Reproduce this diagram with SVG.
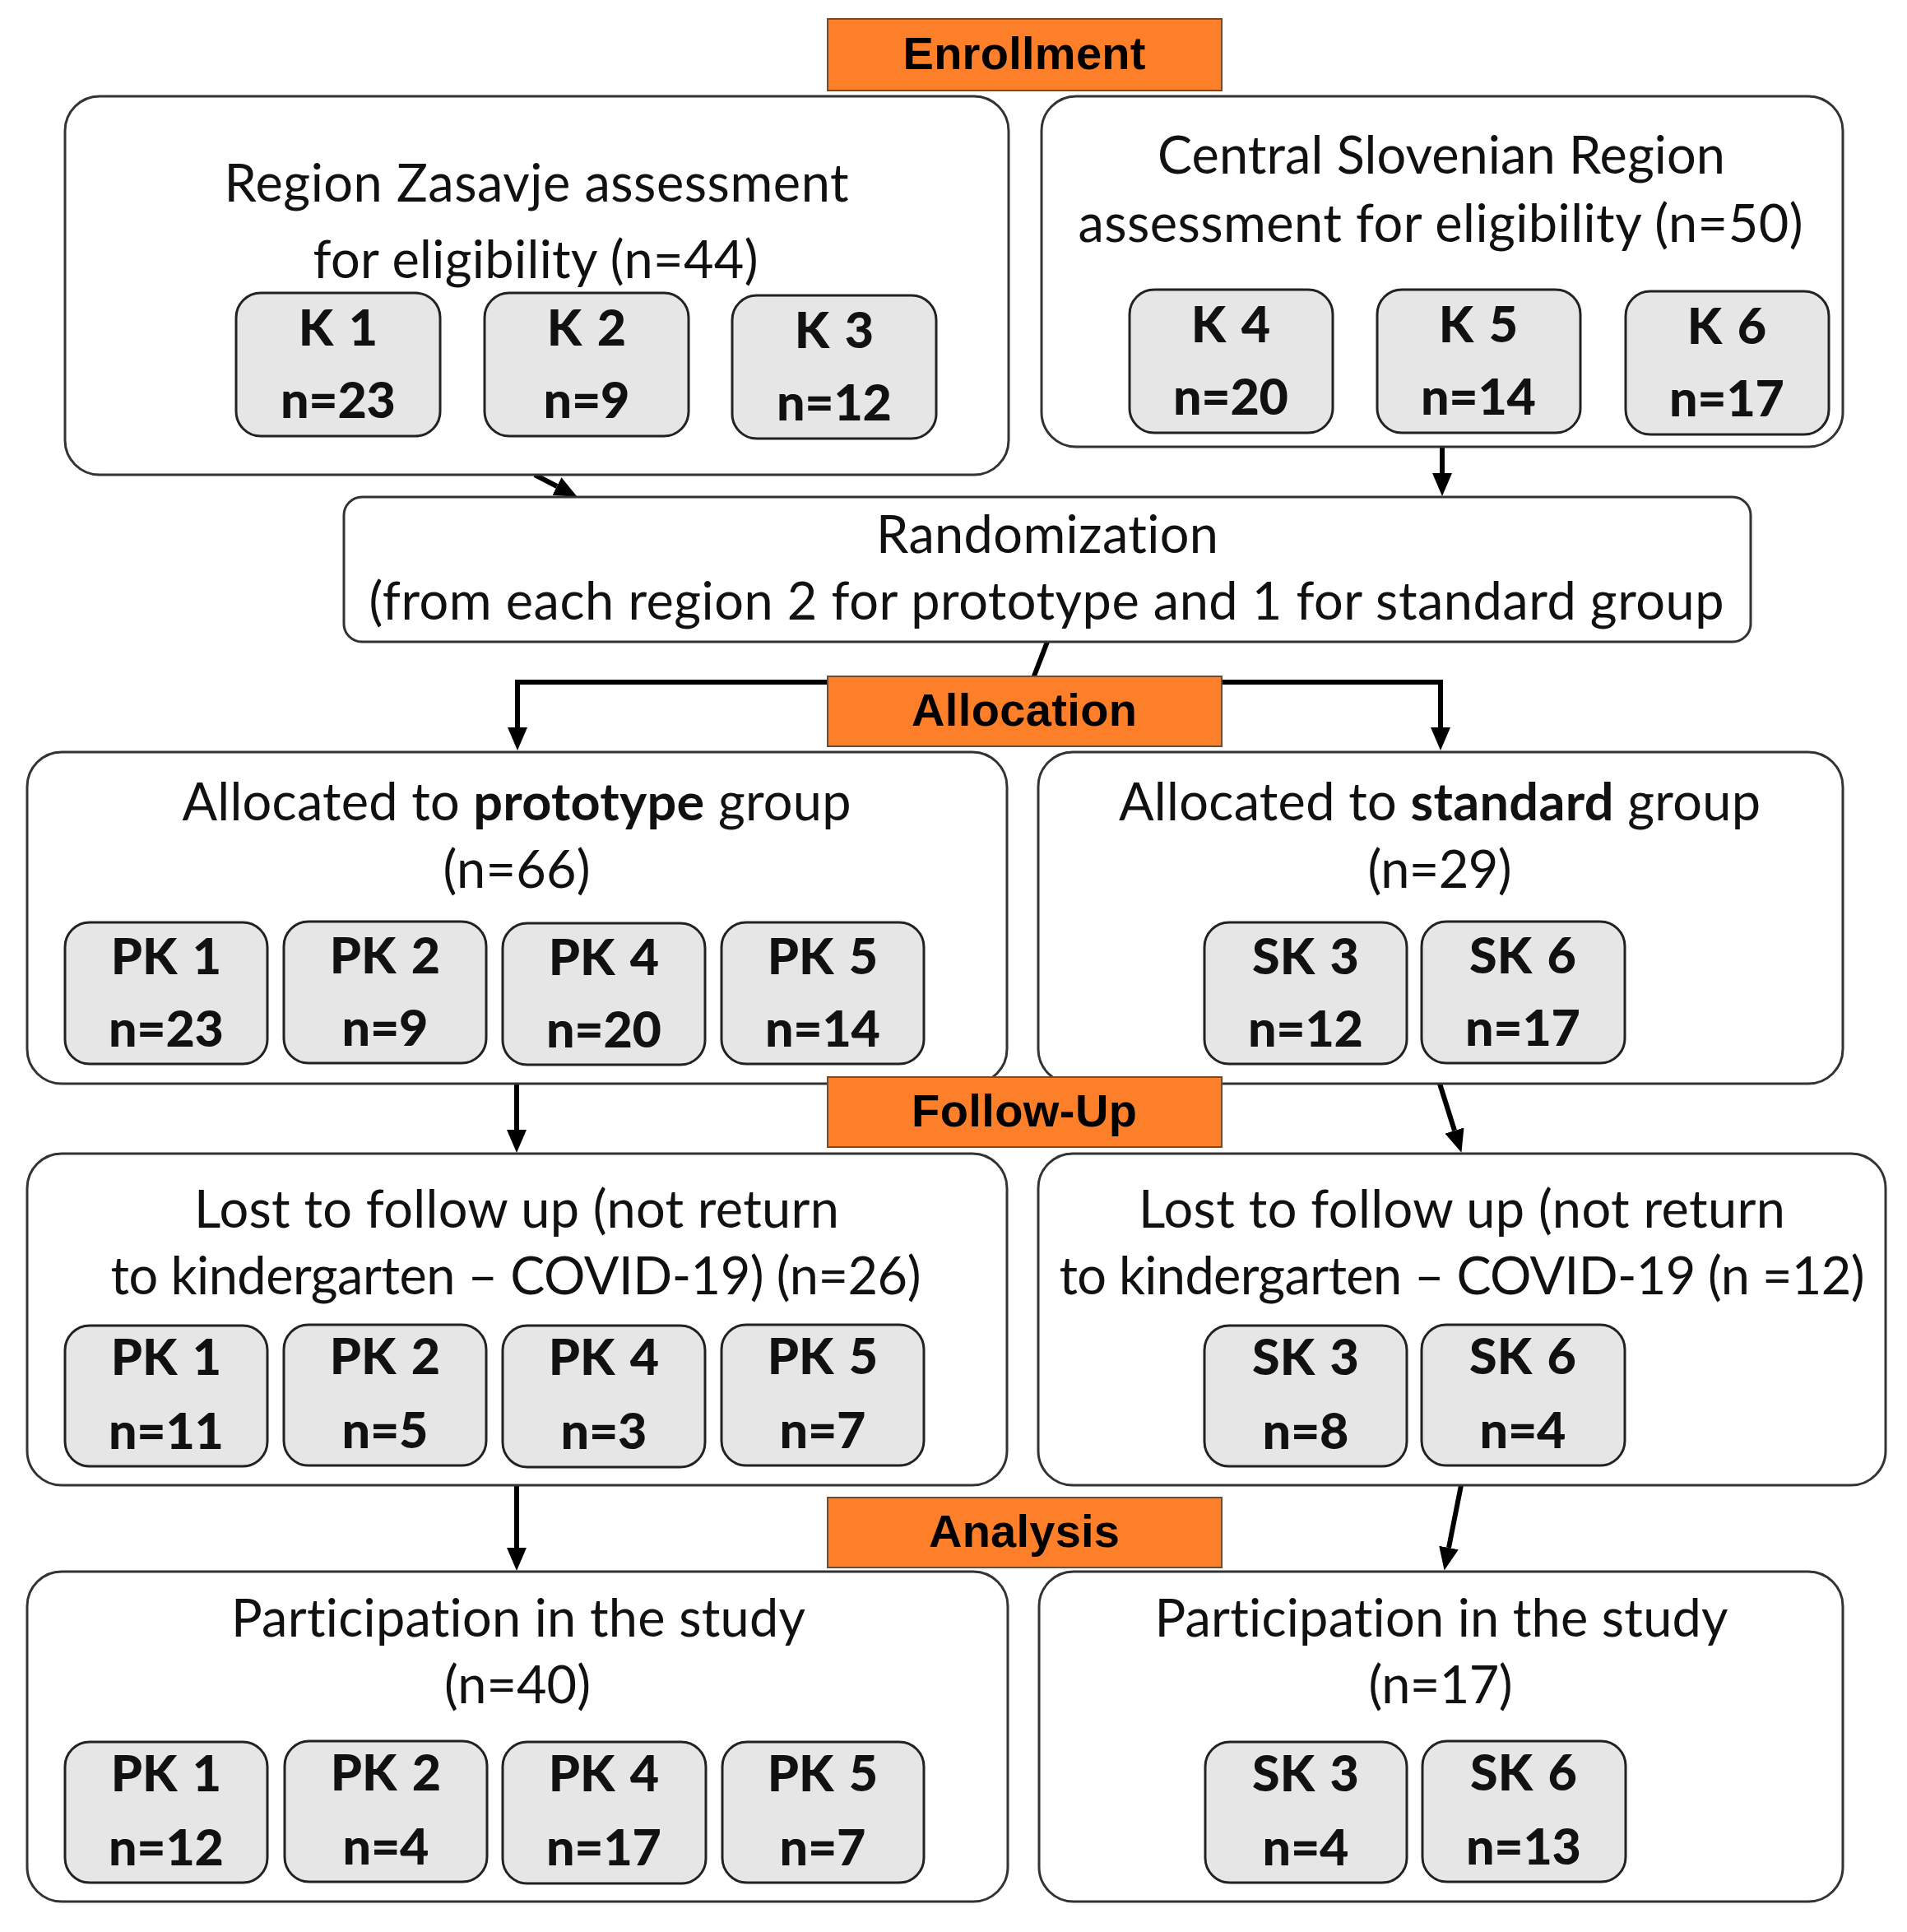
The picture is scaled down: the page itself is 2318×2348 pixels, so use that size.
<svg xmlns="http://www.w3.org/2000/svg" width="2318" height="2348" viewBox="0 0 2318 2348">
<style>
.big{fill:#fff;stroke:#333;stroke-width:3}
.small{fill:#e6e6e6;stroke:#222;stroke-width:3}
.bar{fill:#fe7f29;stroke:#7a4a25;stroke-width:2}
.t{font-family:Lato,"Open Sans",sans-serif;font-size:63px;fill:#111;text-anchor:middle;font-variant-ligatures:none}
.b{font-family:Lato,"Open Sans",sans-serif;font-size:61px;font-weight:900;fill:#111;text-anchor:middle;font-variant-ligatures:none}
.k{word-spacing:4px}
.h{font-family:"Liberation Sans",Arial,sans-serif;font-size:56px;font-weight:bold;fill:#000;text-anchor:middle}
.c{fill:none;stroke:#000;stroke-width:6;stroke-linejoin:miter}
</style>
<defs>
<marker id="ah" markerUnits="userSpaceOnUse" markerWidth="28" markerHeight="24" refX="0" refY="12" orient="auto">
<path d="M0,0 L28,12 L0,24 z" fill="#000"/>
</marker>
</defs>
<rect width="2318" height="2348" fill="#fff"/>
<g id="connectors">
<line class="c" x1="650" y1="577" x2="677" y2="591" marker-end="url(#ah)"/>
<line class="c" x1="1753" y1="543" x2="1753" y2="575" marker-end="url(#ah)"/>
<line class="c" x1="1273" y1="780" x2="1256" y2="824"/>
<path class="c" d="M1256,829 H629 V884" marker-end="url(#ah)"/>
<path class="c" d="M1256,829 H1751 V884" marker-end="url(#ah)"/>
<line class="c" x1="628" y1="1317" x2="628" y2="1373" marker-end="url(#ah)"/>
<line class="c" x1="1750" y1="1317" x2="1768" y2="1374" marker-end="url(#ah)"/>
<line class="c" x1="628" y1="1805" x2="628" y2="1881" marker-end="url(#ah)"/>
<line class="c" x1="1776" y1="1805" x2="1761" y2="1881" marker-end="url(#ah)"/>
</g>
<g id="zasavje">
<rect class="big" x="79" y="117" width="1147" height="460" rx="42"/>
<text class="t" x="652" y="245" textLength="759">Region Zasavje assessment</text>
<text class="t" x="651" y="338" textLength="541">for eligibility (n=44)</text>
</g>
<g id="k1"><rect class="small" x="287" y="356" width="248" height="174" rx="30"/><text class="b k" x="411" y="420">K 1</text><text class="b" x="411" y="508" textLength="140">n=23</text></g>
<g id="k2"><rect class="small" x="589" y="356" width="248" height="174" rx="30"/><text class="b k" x="713" y="420">K 2</text><text class="b" x="713" y="508" textLength="105">n=9</text></g>
<g id="k3"><rect class="small" x="890" y="359" width="248" height="174" rx="30"/><text class="b k" x="1014" y="423">K 3</text><text class="b" x="1014" y="511" textLength="140">n=12</text></g>
<g id="central">
<rect class="big" x="1266" y="117" width="974" height="426" rx="42"/>
<text class="t" x="1752" y="211" textLength="690">Central Slovenian Region</text>
<text class="t" x="1751" y="294" textLength="881">assessment for eligibility (n=50)</text>
</g>
<g id="k4"><rect class="small" x="1373" y="352" width="247" height="174" rx="30"/><text class="b k" x="1496" y="416">K 4</text><text class="b" x="1496" y="504" textLength="140">n=20</text></g>
<g id="k5"><rect class="small" x="1674" y="352" width="247" height="174" rx="30"/><text class="b k" x="1797" y="416">K 5</text><text class="b" x="1797" y="504" textLength="140">n=14</text></g>
<g id="k6"><rect class="small" x="1976" y="354" width="247" height="174" rx="30"/><text class="b k" x="2099" y="418">K 6</text><text class="b" x="2099" y="506" textLength="140">n=17</text></g>
<g id="randomization">
<rect class="big" x="418" y="604" width="1710" height="176" rx="22"/>
<text class="t" x="1273" y="672" textLength="416">Randomization</text>
<text class="t" x="1272" y="753" textLength="1647">(from each region 2 for prototype and 1 for standard group</text>
</g>
<g id="prototype">
<rect class="big" x="33" y="914" width="1191" height="403" rx="42"/>
<text class="t" x="628" y="997" textLength="813">Allocated to <tspan font-weight="bold">prototype</tspan> group</text>
<text class="t" x="628" y="1079" textLength="179">(n=66)</text>
</g>
<g id="a-pk1"><rect class="small" x="79" y="1121" width="246" height="172" rx="30"/><text class="b k" x="202" y="1184">PK 1</text><text class="b" x="202" y="1272" textLength="140">n=23</text></g>
<g id="a-pk2"><rect class="small" x="345" y="1120" width="246" height="172" rx="30"/><text class="b k" x="468" y="1183">PK 2</text><text class="b" x="468" y="1271" textLength="105">n=9</text></g>
<g id="a-pk4"><rect class="small" x="611" y="1122" width="246" height="172" rx="30"/><text class="b k" x="734" y="1185">PK 4</text><text class="b" x="734" y="1273" textLength="140">n=20</text></g>
<g id="a-pk5"><rect class="small" x="877" y="1121" width="246" height="172" rx="30"/><text class="b k" x="1000" y="1184">PK 5</text><text class="b" x="1000" y="1272" textLength="140">n=14</text></g>
<g id="standard">
<rect class="big" x="1262" y="914" width="978" height="403" rx="42"/>
<text class="t" x="1750" y="997" textLength="780">Allocated to <tspan font-weight="bold">standard</tspan> group</text>
<text class="t" x="1750" y="1079" textLength="175">(n=29)</text>
</g>
<g id="a-sk3"><rect class="small" x="1464" y="1121" width="246" height="172" rx="30"/><text class="b k" x="1587" y="1184">SK 3</text><text class="b" x="1587" y="1272" textLength="140">n=12</text></g>
<g id="a-sk6"><rect class="small" x="1728" y="1120" width="247" height="172" rx="30"/><text class="b k" x="1851" y="1183">SK 6</text><text class="b" x="1851" y="1271" textLength="140">n=17</text></g>
<g id="lost-left">
<rect class="big" x="33" y="1402" width="1191" height="403" rx="42"/>
<text class="t" x="628" y="1492" textLength="784">Lost to follow up (not return</text>
<text class="t" x="627" y="1573" textLength="985">to kindergarten – COVID-19) (n=26)</text>
</g>
<g id="l-pk1"><rect class="small" x="79" y="1611" width="246" height="171" rx="30"/><text class="b k" x="202" y="1671">PK 1</text><text class="b" x="202" y="1761" textLength="140">n=11</text></g>
<g id="l-pk2"><rect class="small" x="345" y="1610" width="246" height="171" rx="30"/><text class="b k" x="468" y="1670">PK 2</text><text class="b" x="468" y="1760" textLength="105">n=5</text></g>
<g id="l-pk4"><rect class="small" x="611" y="1611" width="246" height="172" rx="30"/><text class="b k" x="734" y="1671">PK 4</text><text class="b" x="734" y="1761" textLength="105">n=3</text></g>
<g id="l-pk5"><rect class="small" x="877" y="1610" width="246" height="171" rx="30"/><text class="b k" x="1000" y="1670">PK 5</text><text class="b" x="1000" y="1760" textLength="105">n=7</text></g>
<g id="lost-right">
<rect class="big" x="1262" y="1402" width="1030" height="403" rx="42"/>
<text class="t" x="1777" y="1492" textLength="786">Lost to follow up (not return</text>
<text class="t" x="1777" y="1573" textLength="979">to kindergarten – COVID-19 (n =12)</text>
</g>
<g id="l-sk3"><rect class="small" x="1464" y="1611" width="246" height="171" rx="30"/><text class="b k" x="1587" y="1671">SK 3</text><text class="b" x="1587" y="1761" textLength="105">n=8</text></g>
<g id="l-sk6"><rect class="small" x="1728" y="1610" width="247" height="171" rx="30"/><text class="b k" x="1851" y="1670">SK 6</text><text class="b" x="1851" y="1760" textLength="105">n=4</text></g>
<g id="part-left">
<rect class="big" x="33" y="1910" width="1192" height="401" rx="42"/>
<text class="t" x="630" y="1989" textLength="698">Participation in the study</text>
<text class="t" x="629" y="2070" textLength="178">(n=40)</text>
</g>
<g id="p-pk1"><rect class="small" x="79" y="2117" width="246" height="171" rx="30"/><text class="b k" x="202" y="2177">PK 1</text><text class="b" x="202" y="2267" textLength="140">n=12</text></g>
<g id="p-pk2"><rect class="small" x="346" y="2116" width="246" height="171" rx="30"/><text class="b k" x="469" y="2176">PK 2</text><text class="b" x="469" y="2266" textLength="105">n=4</text></g>
<g id="p-pk4"><rect class="small" x="611" y="2117" width="247" height="172" rx="30"/><text class="b k" x="734" y="2177">PK 4</text><text class="b" x="734" y="2267" textLength="140">n=17</text></g>
<g id="p-pk5"><rect class="small" x="878" y="2117" width="245" height="171" rx="30"/><text class="b k" x="1000" y="2177">PK 5</text><text class="b" x="1000" y="2267" textLength="105">n=7</text></g>
<g id="part-right">
<rect class="big" x="1263" y="1910" width="977" height="401" rx="42"/>
<text class="t" x="1752" y="1989" textLength="697">Participation in the study</text>
<text class="t" x="1751" y="2070" textLength="175">(n=17)</text>
</g>
<g id="p-sk3"><rect class="small" x="1465" y="2117" width="245" height="171" rx="30"/><text class="b k" x="1587" y="2177">SK 3</text><text class="b" x="1587" y="2267" textLength="105">n=4</text></g>
<g id="p-sk6"><rect class="small" x="1729" y="2116" width="247" height="171" rx="30"/><text class="b k" x="1852" y="2176">SK 6</text><text class="b" x="1852" y="2266" textLength="140">n=13</text></g>
<g id="enrollment"><rect class="bar" x="1006" y="23" width="479" height="87"/><text class="h" x="1245" y="84" textLength="295">Enrollment</text></g>
<g id="allocation"><rect class="bar" x="1006" y="822" width="479" height="85"/><text class="h" x="1245" y="882" textLength="274">Allocation</text></g>
<g id="follow-up"><rect class="bar" x="1006" y="1309" width="479" height="85"/><text class="h" x="1245" y="1369" textLength="274">Follow-Up</text></g>
<g id="analysis"><rect class="bar" x="1006" y="1820" width="479" height="85"/><text class="h" x="1245" y="1880" textLength="232">Analysis</text></g>
</svg>
